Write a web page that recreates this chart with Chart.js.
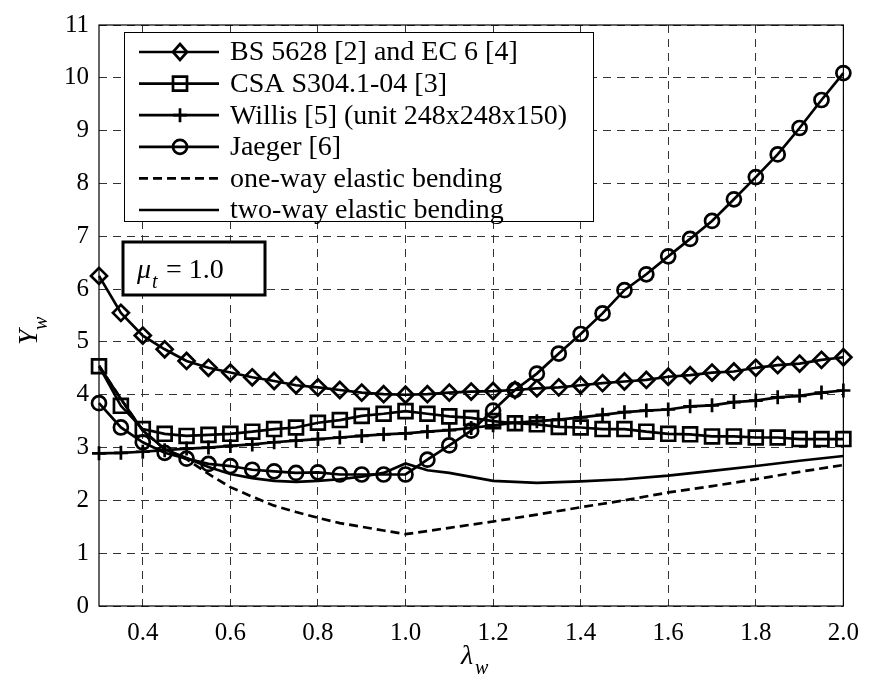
<!DOCTYPE html>
<html>
<head>
<meta charset="utf-8">
<script src="https://cdn.jsdelivr.net/npm/chart.js@4/dist/chart.umd.min.js"></script>
<style>
  html, body { margin: 0; padding: 0; background: #fff; }
</style>
</head>
<body>
<canvas id="chart-yw" width="871" height="684"></canvas>
<script>
// lambda_w values where the design curves are sampled
const lambdaW = [0.3, 0.35, 0.4, 0.45, 0.5, 0.55, 0.6, 0.65, 0.7, 0.75, 0.8, 0.85, 0.9, 0.95, 1.0,
  1.05, 1.1, 1.15, 1.2, 1.25, 1.3, 1.35, 1.4, 1.45, 1.5, 1.55, 1.6, 1.65, 1.7, 1.75, 1.8, 1.85, 1.9, 1.95, 2.0];

const bs5628 = [6.25, 5.55, 5.12, 4.86, 4.64, 4.51, 4.42, 4.33, 4.26, 4.18, 4.14, 4.09, 4.04, 4.01, 4.0,
  4.01, 4.04, 4.06, 4.07, 4.09, 4.12, 4.14, 4.18, 4.22, 4.25, 4.28, 4.34, 4.37, 4.42, 4.44, 4.51, 4.56, 4.59, 4.66, 4.71];

const csa = [4.54, 3.79, 3.35, 3.26, 3.22, 3.24, 3.26, 3.30, 3.35, 3.38, 3.47, 3.52, 3.60, 3.64, 3.69,
  3.64, 3.59, 3.56, 3.50, 3.46, 3.44, 3.39, 3.38, 3.35, 3.35, 3.30, 3.26, 3.25, 3.21, 3.21, 3.19, 3.19, 3.16, 3.16, 3.16];

const willis = [2.89, 2.90, 2.92, 2.95, 2.98, 3.00, 3.03, 3.06, 3.10, 3.13, 3.16, 3.19, 3.22, 3.25, 3.27,
  3.30, 3.33, 3.37, 3.42, 3.47, 3.50, 3.53, 3.57, 3.62, 3.67, 3.70, 3.72, 3.78, 3.80, 3.86, 3.89, 3.95, 3.98, 4.04, 4.08];

const jaeger = [3.84, 3.38, 3.10, 2.90, 2.79, 2.69, 2.65, 2.58, 2.55, 2.52, 2.53, 2.49, 2.49, 2.49, 2.49,
  2.77, 3.04, 3.32, 3.70, 4.09, 4.40, 4.78, 5.15, 5.54, 5.98, 6.28, 6.62, 6.95, 7.29, 7.70, 8.12, 8.55, 9.05, 9.58, 10.09];

// elastic bending solutions
const elasticX = [0.3, 0.35, 0.4, 0.45, 0.5, 0.55, 0.6, 0.65, 0.7, 0.75, 0.8, 0.85, 0.9, 0.95, 1.0,
  1.05, 1.1, 1.2, 1.3, 1.4, 1.5, 1.6, 1.7, 1.8, 1.9, 2.0];
const oneWay = [4.55, 3.92, 3.32, 2.97, 2.78, 2.50, 2.25, 2.07, 1.90, 1.78, 1.67, 1.57, 1.50, 1.43, 1.36,
  1.42, 1.48, 1.60, 1.73, 1.87, 2.00, 2.15, 2.27, 2.40, 2.54, 2.67];
const twoWay = [4.55, 3.92, 3.32, 2.97, 2.80, 2.63, 2.50, 2.42, 2.37, 2.35, 2.37, 2.40, 2.45, 2.52, 2.70,
  2.57, 2.52, 2.37, 2.33, 2.36, 2.40, 2.47, 2.56, 2.65, 2.75, 2.84];

const xTicks = [0.4, 0.6, 0.8, 1.0, 1.2, 1.4, 1.6, 1.8, 2.0];
const yTicks = [0, 1, 2, 3, 4, 5, 6, 7, 8, 9, 10, 11];

const legendItems = [
  { text: "BS 5628 [2] and EC 6 [4]", style: "diamond" },
  { text: "CSA S304.1-04 [3]", style: "square" },
  { text: "Willis [5] (unit 248x248x150)", style: "cross" },
  { text: "Jaeger [6]", style: "circle" },
  { text: "one-way elastic bending", style: "dash" },
  { text: "two-way elastic bending", style: "line" }
];

const SERIF = "'Liberation Serif', 'Times New Roman', serif";
const LW = 2.7;

function pts(xs, ys) {
  return xs.map((x, i) => ({ x: x, y: ys[i] }));
}

function marked(label, ys, style, radius) {
  return {
    label: label,
    data: pts(lambdaW, ys),
    borderColor: "#000",
    borderWidth: LW,
    pointStyle: style,
    pointRadius: radius,
    pointBorderWidth: LW,
    pointBorderColor: "#000",
    pointBackgroundColor: "rgba(255,255,255,0)",
    tension: 0,
    clip: false
  };
}

function drawMarker(ctx, style, x, y) {
  ctx.save();
  ctx.strokeStyle = "#000";
  ctx.lineWidth = LW;
  ctx.beginPath();
  if (style === "diamond") {
    ctx.moveTo(x, y - 8); ctx.lineTo(x + 7, y); ctx.lineTo(x, y + 8); ctx.lineTo(x - 7, y); ctx.closePath();
  } else if (style === "square") {
    ctx.rect(x - 7, y - 7, 14, 14);
  } else if (style === "cross") {
    ctx.moveTo(x - 7, y); ctx.lineTo(x + 7, y); ctx.moveTo(x, y - 7); ctx.lineTo(x, y + 7);
  } else if (style === "circle") {
    ctx.arc(x, y, 7, 0, Math.PI * 2);
  }
  ctx.stroke();
  ctx.restore();
}

const annotations = {
  id: "annotations",
  afterDatasetsDraw(chart) {
    const ctx = chart.ctx;
    const a = chart.chartArea;
    ctx.save();
    // axes box
    ctx.strokeStyle = "#000";
    ctx.lineWidth = 1.2;
    ctx.strokeRect(a.left, a.top, a.right - a.left, a.bottom - a.top);

    // legend box
    const lx = 124, ly = 32, lw = 469, lh = 189;
    ctx.fillStyle = "#fff";
    ctx.fillRect(lx, ly, lw, lh);
    ctx.lineWidth = 1;
    ctx.strokeRect(lx + 0.5, ly + 0.5, lw, lh);
    ctx.font = "28px " + SERIF;
    ctx.textBaseline = "middle";
    legendItems.forEach((item, i) => {
      const y = 52 + i * 31.6;
      ctx.save();
      ctx.strokeStyle = "#000";
      ctx.lineWidth = LW;
      if (item.style === "dash") ctx.setLineDash([9, 5]);
      ctx.beginPath();
      ctx.moveTo(139, y);
      ctx.lineTo(219, y);
      ctx.stroke();
      ctx.restore();
      drawMarker(ctx, item.style, 180, y);
      ctx.fillStyle = "#000";
      ctx.fillText(item.text, 230, y + 1);
    });

    // mu_t box
    ctx.fillStyle = "#fff";
    ctx.fillRect(123, 242, 142, 53);
    ctx.lineWidth = 3;
    ctx.strokeRect(123, 242, 142, 53);
    ctx.fillStyle = "#000";
    ctx.textBaseline = "alphabetic";
    ctx.font = "italic 28px " + SERIF;
    ctx.fillText("\u03bc", 137, 278);
    ctx.font = "italic 20px " + SERIF;
    ctx.fillText("t", 152, 288);
    ctx.font = "28px " + SERIF;
    ctx.fillText("= 1.0", 166, 278);

    // axis titles
    ctx.font = "italic 28px " + SERIF;
    ctx.fillText("\u03bb", 461, 664);
    ctx.font = "italic 20px " + SERIF;
    ctx.fillText("w", 475, 674);

    ctx.save();
    ctx.translate(37, 345);
    ctx.rotate(-Math.PI / 2);
    ctx.font = "italic 28px " + SERIF;
    ctx.fillText("Y", 0, 0);
    ctx.font = "italic 20px " + SERIF;
    ctx.fillText("w", 15, 10);
    ctx.restore();

    ctx.restore();
  }
};

new Chart(document.getElementById("chart-yw"), {
  type: "line",
  data: {
    datasets: [
      {
        label: "one-way elastic bending",
        data: pts(elasticX, oneWay),
        borderColor: "#000",
        borderWidth: LW,
        borderDash: [9, 5],
        pointRadius: 0,
        tension: 0
      },
      {
        label: "two-way elastic bending",
        data: pts(elasticX, twoWay),
        borderColor: "#000",
        borderWidth: LW,
        pointRadius: 0,
        tension: 0
      },
      marked("BS 5628 [2] and EC 6 [4]", bs5628, "rectRot", 8),
      marked("CSA S304.1-04 [3]", csa, "rect", 9.8),
      marked("Willis [5] (unit 248x248x150)", willis, "cross", 7),
      marked("Jaeger [6]", jaeger, "circle", 7)
    ]
  },
  options: {
    responsive: false,
    animation: false,
    layout: { padding: { left: 0, top: 16, right: 23, bottom: 0 } },
    plugins: {
      legend: { display: false },
      tooltip: { enabled: false }
    },
    scales: {
      x: {
        type: "linear",
        min: 0.3,
        max: 2.0,
        afterBuildTicks: (scale) => { scale.ticks = xTicks.map(v => ({ value: v })); },
        afterFit: (scale) => { scale.height = 78; },
        grid: { color: "#333", lineWidth: 1, drawTicks: false },
        border: { display: false, dash: [8, 6] },
        ticks: {
          color: "#000",
          padding: 12,
          font: { family: SERIF, size: 25 },
          maxRotation: 0,
          callback: (v) => v.toFixed(1)
        }
      },
      y: {
        min: 0,
        max: 11,
        afterBuildTicks: (scale) => { scale.ticks = yTicks.map(v => ({ value: v })); },
        afterFit: (scale) => { scale.width = 99; },
        grid: { color: "#333", lineWidth: 1, drawTicks: false },
        border: { display: false, dash: [8, 6] },
        ticks: {
          color: "#000",
          padding: 10,
          font: { family: SERIF, size: 25 }
        }
      }
    }
  },
  plugins: [annotations]
});
</script>
</body>
</html>
